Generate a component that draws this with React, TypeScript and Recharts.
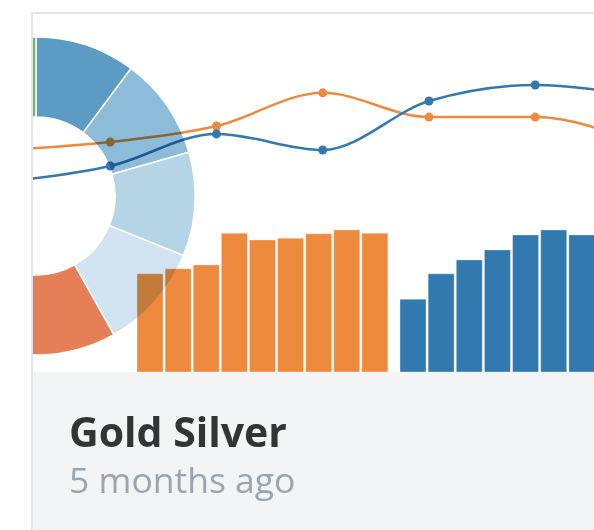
import { LineChart, Line, BarChart, Bar, PieChart, Pie, Cell, XAxis, YAxis } from "recharts";

const steps = ["Q1", "Q2", "Q3", "Q4", "Q5", "Q6", "Q7"];
const goldLine = [62.2, 64.4, 68.9, 78.2, 71.4, 71.4, 63.6];
const silverLine = [53.2, 57.7, 66.7, 62.2, 75.9, 80.4, 77.0];

const goldMonths = ["Jan", "Feb", "Mar", "Apr", "May", "Jun", "Jul", "Aug", "Sep"];
const goldBars = [27.5, 28.9, 30.0, 38.9, 37.0, 37.5, 38.7, 39.8, 38.9];

const silverMonths = ["Jan", "Feb", "Mar", "Apr", "May", "Jun", "Jul"];
const silverBars = [20.4, 27.5, 31.4, 34.2, 38.4, 39.8, 38.4];

const sliceNames = ["A", "B", "C", "D", "E", "F", "G", "H"];
const sliceValues = [36.7, 37.3, 38.0, 38.7, 58, 52, 45, 54.3];
const sliceColors = ["#5b9bc4", "#8dbcd8", "#b5d4e5", "#d1e3f0", "#e47f57", "#f2b28c", "#a6d3a0", "#6cb571"];

const GOLD = "#ee8a3e";
const SILVER = "#3279b0";

const lineData = steps.map((s, i) => ({ step: s, gold: goldLine[i], silver: silverLine[i] }));
const goldData = goldMonths.map((m, i) => ({ month: m, value: goldBars[i] }));
const silverData = silverMonths.map((m, i) => ({ month: m, value: silverBars[i] }));
const pieData = sliceNames.map((n, i) => ({ name: n, value: sliceValues[i] }));

const abs = (left: number, top: number): React.CSSProperties => ({ position: "absolute", left, top });

export default function App() {
  return (
    <div style={{ position: "relative", width: 594, height: 530, overflow: "hidden", background: "#fff" }}>
      <style>{"body{margin:0}"}</style>
      <div
        style={{
          position: "absolute",
          left: 31,
          top: 12,
          width: 620,
          height: 560,
          border: "2px solid #e3e5e8",
          overflow: "hidden",
          background: "#fff",
        }}
      >
        {/* bars first, lines over them, donut multiplied on top */}
        <div style={abs(103, 1)}>
          <BarChart width={253} height={357} data={goldData} margin={{ top: 0, right: 0, bottom: 0, left: 0 }} barCategoryGap={1}>
            <XAxis dataKey="month" hide />
            <YAxis hide domain={[0, 100]} />
            <Bar dataKey="value" fill={GOLD} stroke="#ffffff" strokeOpacity={0.35} strokeWidth={1} isAnimationActive={false} />
          </BarChart>
        </div>
        <div style={abs(366, 1)}>
          <BarChart width={197} height={357} data={silverData} margin={{ top: 0, right: 0, bottom: 0, left: 0 }} barCategoryGap={1}>
            <XAxis dataKey="month" hide />
            <YAxis hide domain={[0, 100]} />
            <Bar dataKey="value" fill={SILVER} stroke="#ffffff" strokeOpacity={0.35} strokeWidth={1} isAnimationActive={false} />
          </BarChart>
        </div>
        <div style={abs(-29.25, 1)}>
          <LineChart width={637.5} height={357} data={lineData} margin={{ top: 0, right: 0, bottom: 0, left: 0 }}>
            <XAxis dataKey="step" hide />
            <YAxis hide domain={[0, 100]} />
            <Line
              type="monotone"
              dataKey="gold"
              stroke={GOLD}
              strokeWidth={2.5}
              dot={{ r: 4.5, fill: GOLD, stroke: GOLD, strokeWidth: 0 }}
              isAnimationActive={false}
            />
            <Line
              type="monotone"
              dataKey="silver"
              stroke={SILVER}
              strokeWidth={2.5}
              dot={{ r: 4.5, fill: SILVER, stroke: SILVER, strokeWidth: 0 }}
              isAnimationActive={false}
            />
          </LineChart>
        </div>
        <div style={{ ...abs(-167, 12), mixBlendMode: "multiply" }}>
          <PieChart width={340} height={340} margin={{ top: 0, right: 0, bottom: 0, left: 0 }}>
            <Pie
              data={pieData}
              dataKey="value"
              cx={170}
              cy={170}
              innerRadius={79}
              outerRadius={159}
              startAngle={90}
              endAngle={-270}
              stroke="#ffffff"
              strokeWidth={1.5}
              isAnimationActive={false}
            >
              {pieData.map((d, i) => (
                <Cell key={d.name} fill={sliceColors[i]} />
              ))}
            </Pie>
          </PieChart>
        </div>
        <div style={{ position: "absolute", left: 0, top: 358, right: 0, bottom: 0, background: "#f3f4f6" }}>
          <div
            style={{
              position: "absolute",
              left: 36,
              top: 38.6,
              fontFamily: "'Open Sans', sans-serif",
              fontWeight: 700,
              fontSize: 41,
              lineHeight: "41px",
              color: "#323436",
              whiteSpace: "nowrap",
            }}
          >
            Gold Silver
          </div>
          <div
            style={{
              position: "absolute",
              left: 36,
              top: 89.5,
              fontFamily: "'Open Sans', sans-serif",
              fontSize: 35.5,
              lineHeight: "35.5px",
              color: "#9aa6af",
              whiteSpace: "nowrap",
            }}
          >
            5 months ago
          </div>
        </div>
      </div>
    </div>
  );
}
